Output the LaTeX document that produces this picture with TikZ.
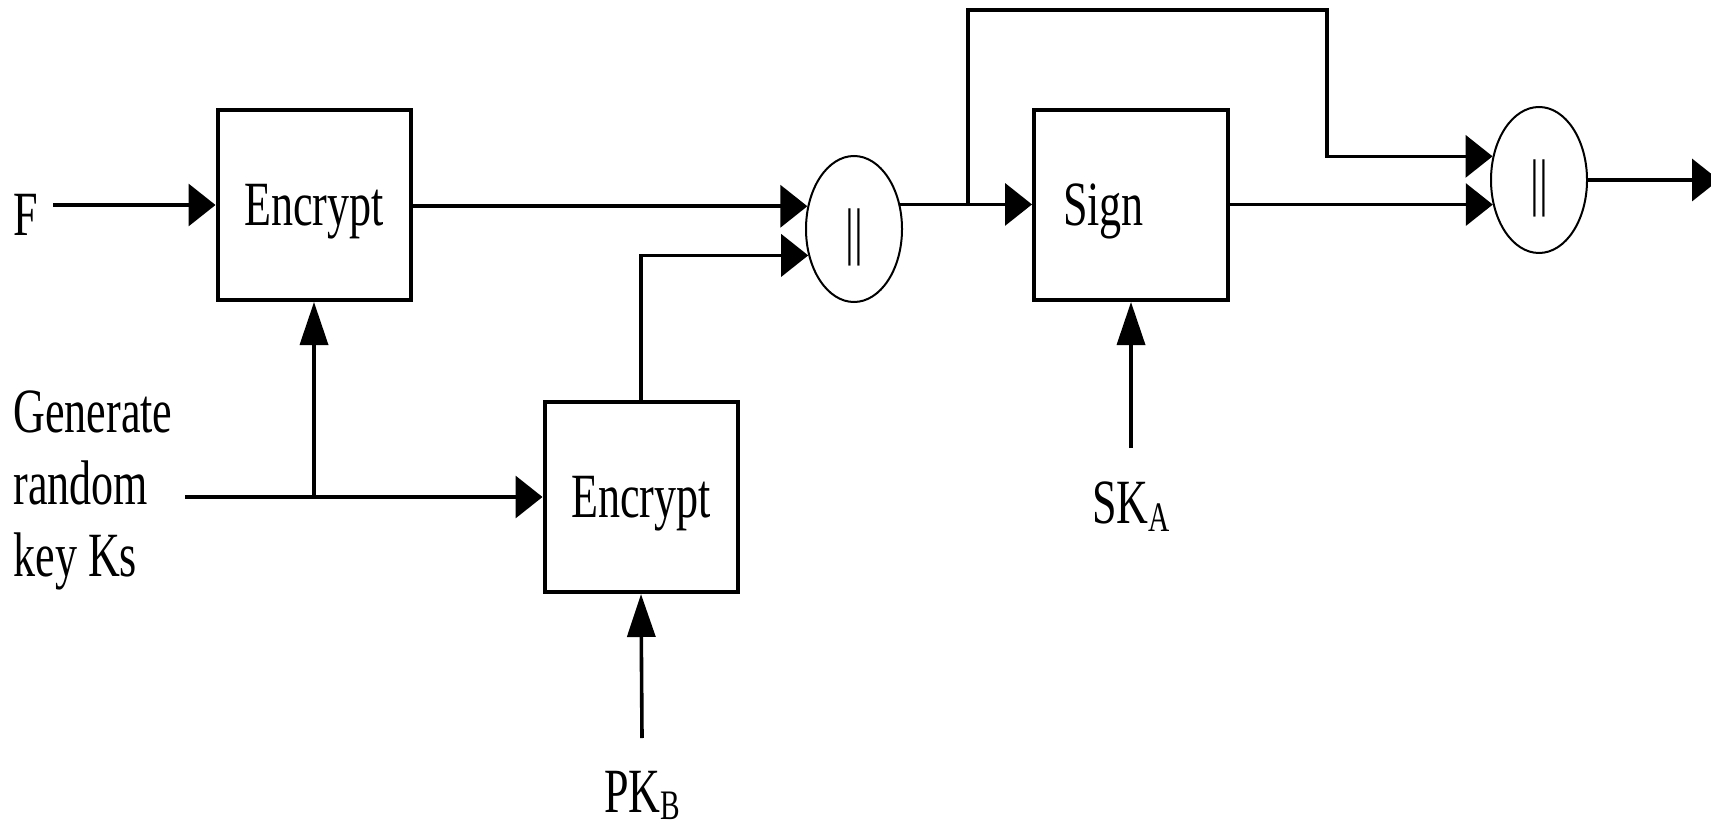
\documentclass[tikz,border=0pt]{standalone}
\usepackage{fontspec}
\setmainfont[FakeStretch=0.7]{Liberation Serif}
\usetikzlibrary{arrows.meta,shapes.geometric}
\begin{document}
\begin{tikzpicture}[x=0.5pt,y=-0.5pt,
  every node/.style={font=\fontsize{31.5}{36}\selectfont},
  blk/.style={draw, line width=2pt, minimum width=96.5pt, minimum height=95pt,
    text height=20.8pt, text depth=0pt},
  cat/.style={draw, ellipse, line width=1pt, minimum width=48pt, minimum height=73pt,
    inner sep=0pt, text height=24pt, text depth=0pt},
  wire/.style={line width=1.8pt},
  harrow/.style={wire, -{Triangle[length=13.5pt,width=21pt]}},
  varrow/.style={wire, -{Triangle[length=21.5pt,width=14pt]}}]
  \useasboundingbox (0,0) rectangle (1711,828);
  % boxes and concatenation nodes
  \node[blk] (enc1) at (314,205) {Encrypt};
  \node[blk] (enc2) at (641,497) {Encrypt};
  \node[blk, text width=68pt, align=left, inner xsep=14.5pt] (sign) at (1131,205) {Sign};
  \node[cat] (cat1) at (854,229) {||};
  \node[cat] (cat2) at (1539,180) {||};
  % inputs
  \node[anchor=base, inner sep=0pt] (f) at (26,236) {F};
  \node[anchor=base west, align=left, inner sep=0pt] (gen) at (13,576) {Generate\\random\\key Ks};
  \node[anchor=base, inner sep=0pt] (pkb) at (642,812) {PK\raisebox{-3.5pt}{\fontsize{21}{21}\selectfont B}};
  \node[anchor=base, inner sep=0pt] (ska) at (1131,523) {SK\raisebox{-4pt}{\fontsize{21}{21}\selectfont A}};
  \coordinate (fin) at (53,205);
  \coordinate (kin) at (185,497);
  \coordinate (pkin) at (642,738);
  \coordinate (skin) at (1131,448);
  \coordinate (br) at (968,205);
  \coordinate (loop) at (1327,10);
  \coordinate (out) at (1719,180);
  % connectors
  \draw[harrow] (fin) -- (enc1.west);
  \draw[harrow] (enc1.east |- cat1.154) -- (cat1.154);
  \draw[harrow] (kin) -- (enc2.west);
  \draw[varrow] (kin -| enc1.south) -- (enc1.south);
  \draw[harrow] (enc2.north) |- (cat1.210);
  \draw[varrow] (pkin) -- (enc2.south);
  \draw[harrow] (cat1.28) -- (cat1.28 -| sign.west);
  \draw[harrow] (br) |- (loop) |- (cat2.153);
  \draw[varrow] (skin) -- (sign.south);
  \draw[harrow] (sign.east |- cat2.208) -- (cat2.208);
  \draw[harrow] (cat2.east) -- (out);
\end{tikzpicture}
\end{document}
